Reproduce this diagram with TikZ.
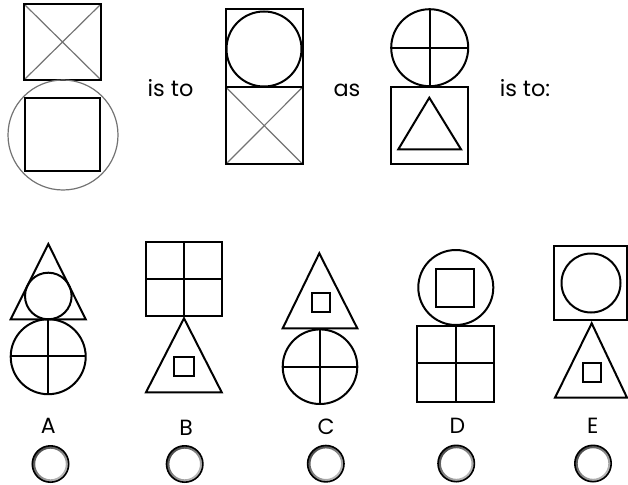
\documentclass[tikz,border=0pt]{standalone}
\usepackage{fontspec}
\setmainfont{Poppins}
\begin{document}
\begin{tikzpicture}[x=0.75pt,y=-0.75pt,
  blk/.style={draw=black,line width=1.5pt,line join=miter},
  thin/.style={draw=black!55,line width=0.9pt},
  word/.style={font=\fontsize{16.8}{20}\selectfont,text=black,anchor=base,inner sep=0pt},
  letter/.style={font=\fontsize{16.5}{20}\selectfont,text=black,anchor=base,inner sep=0pt},
  radio/.style={draw=black,line width=1.2pt}]
\useasboundingbox (0,0) rectangle (628,485);
% ---------- top row ----------
% first pair
\draw[thin] (24,4) -- (101,80) (101,4) -- (24,80);
\draw[blk] (24,4) rectangle (101,80);
\draw[thin] (63,135) circle (55);
\draw[blk] (25,98) rectangle (100,171);
\node[word] (isto1) at (170.5,96.7) {is to};
% second pair
\draw[thin] (226,87.3) -- (302.5,164) (302.5,87.3) -- (226,164);
\draw[blk] (226,9.5) rectangle (302.5,164);
\draw[blk] (226,87.3) -- (302.5,87.3);
\draw[blk] (264,49) circle (37.5);
\node[word] (as) at (347,96.7) {as};
% third pair
\draw[blk] (429.7,47.7) circle (38.5);
\draw[blk] (430,9.3) -- (430,86.2) (391.2,48.3) -- (468.2,48.3);
\draw[blk] (391,86.7) rectangle (468,164);
\draw[blk] (429.3,97.7) -- (398.3,149.3) -- (461,149.3) -- cycle;
\node[word] (isto2) at (525,96.7) {is to:};
% ---------- answers ----------
% A
\draw[blk] (48.3,244) -- (10.7,319.3) -- (85.7,319.3) -- cycle;
\draw[blk] (48.3,296) circle (23.3);
\draw[blk] (48.2,356.7) circle (37.5);
\draw[blk] (48.3,319.3) -- (48.3,394.2) (10.7,356) -- (85.7,356);
% B
\draw[blk] (146,241.7) rectangle (222.3,316);
\draw[blk] (184,241.7) -- (184,316) (146,279.3) -- (222.3,279.3);
\draw[blk] (184,318.3) -- (146,392.3) -- (221.7,392.3) -- cycle;
\draw[blk] (174,357.3) rectangle (194,375.7);
% C
\draw[blk] (319.3,253.3) -- (282.7,328.3) -- (357.3,328.3) -- cycle;
\draw[blk] (311.7,292.7) rectangle (330,311.7);
\draw[blk] (320,366.7) circle (37.3);
\draw[blk] (319.7,329.4) -- (319.7,404) (282.7,366.7) -- (357.3,366.7);
% D
\draw[blk] (455.8,287.5) circle (37.5);
\draw[blk] (436,269.3) rectangle (474,306.7);
\draw[blk] (417.3,326) rectangle (494,401.7);
\draw[blk] (455.7,326) -- (455.7,401.7) (417.3,363.3) -- (494,363.3);
% E
\draw[blk] (554.3,246) rectangle (627,320);
\draw[blk] (591,283) circle (29.5);
\draw[blk] (591.7,323.3) -- (555,397.7) -- (627,397.7) -- cycle;
\draw[blk] (582.7,363.3) rectangle (601,381.7);
% labels
\node[letter] (la) at (48.3,433.3) {A};
\node[letter] (lb) at (186,435) {B};
\node[letter] (lc) at (326,434) {C};
\node[letter] (ld) at (457.3,433.3) {D};
\node[letter] (le) at (592.7,433.3) {E};
% radio buttons
\foreach \n/\cx/\cy in {ra/50.5/464, rb/184.7/464, rc/325.8/463.7, rd/456.2/463.5, re/593/463.5}{
  \coordinate (\n) at (\cx,\cy);
  \shade[shading=axis,top color=black!25,bottom color=black!70,shading angle=-135,even odd rule]
    (\n) circle (18) (\n) circle (15.3);
  \draw[radio] (\n) circle (18.2);
}
\end{tikzpicture}
\end{document}
